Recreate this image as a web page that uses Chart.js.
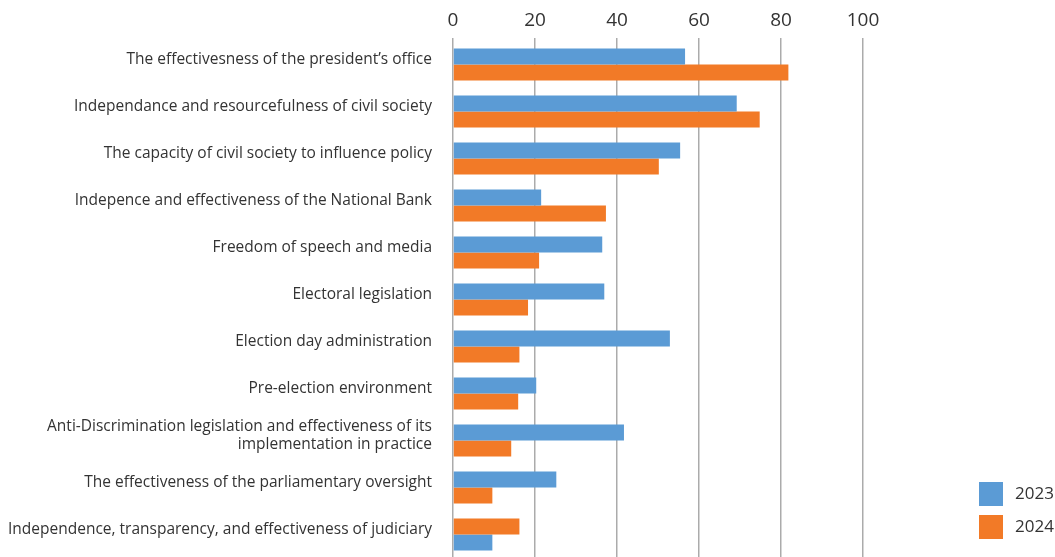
<!DOCTYPE html>
<html>
<head>
<meta charset="utf-8">
<title>Assessment 2023 vs 2024</title>
<script src="https://cdn.jsdelivr.net/npm/chart.js@4"></script>
<style>
  html, body { margin: 0; padding: 0; background: #fff; overflow: hidden; }
  canvas { display: block; }
</style>
</head>
<body>
<canvas id="chart" width="1055" height="560"></canvas>
<script>
const categories = [
    "The effectivesness of the president\u2019s office",
    "Independance and resourcefulness of civil society",
    "The capacity of civil society to influence policy",
    "Indepence and effectiveness of the National Bank",
    "Freedom of speech and media",
    "Electoral legislation",
    "Election day administration",
    "Pre-election environment",
    ["Anti-Discrimination legislation and effectiveness of its", "implementation in practice"],
    "The effectiveness of the parliamentary oversight",
    "Independence, transparency, and effectiveness of judiciary"
];
const values2023 = [56.6, 69.2, 55.4, 21.5, 36.4, 36.9, 52.9, 20.3, 41.7, 25.2, 9.6];
const values2024 = [81.8, 74.8, 50.2, 37.3, 21.0, 18.3, 16.2, 15.9, 14.2, 9.6, 16.2];
const xTicks = [0, 20, 40, 60, 80, 100];
const years = ["2023", "2024"];
const colors = { "2023": "#5B9BD5", "2024": "#F27A27" };
// rows where the 2024 bar sits above the 2023 one
const rows2024First = [10];

const FONT = "'Open Sans', 'Noto Sans', sans-serif";
const TEXT = "#333333";

// two bar slots per row (upper / lower), filled from the yearly series
function slot(upper) {
    const data = [], bg = [];
    categories.forEach((c, i) => {
        const flip = rows2024First.includes(i);
        const year = (upper !== flip) ? "2023" : "2024";
        data.push(year === "2023" ? values2023[i] : values2024[i]);
        bg.push(colors[year]);
    });
    return { label: upper ? "upper" : "lower", data, backgroundColor: bg, borderWidth: 0 };
}

const legendBoxes = {
    id: "legendBoxes",
    afterDraw(chart) {
        const ctx = chart.ctx;
        ctx.save();
        ctx.font = "17px " + FONT;
        ctx.textBaseline = "middle";
        years.forEach((y, i) => {
            const top = 482 + i * 33;
            ctx.fillStyle = colors[y];
            ctx.fillRect(979, top, 24, 24);
            ctx.fillStyle = TEXT;
            ctx.fillText(y, 1015, top + 12);
        });
        ctx.restore();
    }
};

new Chart(document.getElementById("chart"), {
    type: "bar",
    data: { labels: categories, datasets: [slot(true), slot(false)] },
    options: {
        indexAxis: "y",
        responsive: false,
        animation: false,
        layout: { padding: { left: 0, right: 192, top: 0, bottom: 2 } },
        datasets: { bar: { categoryPercentage: 0.68, barPercentage: 1 } },
        plugins: { legend: { display: false }, tooltip: { enabled: false } },
        scales: {
            x: {
                position: "top",
                min: 0,
                max: 100,
                afterBuildTicks: s => { s.ticks = xTicks.map(v => ({ value: v })); },
                afterFit: s => { s.height = 41; },
                border: { display: false },
                grid: { color: "#ababab", lineWidth: 1.5, drawTicks: true, tickLength: 3 },
                ticks: { color: TEXT, font: { family: FONT, size: 19 }, padding: 6 }
            },
            y: {
                // fixed label column; labels may run to the plot edges
                afterFit: s => { s.width = 453; s.paddingTop = 0; s.paddingBottom = 0; },
                border: { display: false },
                grid: { display: false, drawTicks: false },
                ticks: {
                    color: TEXT,
                    font: { family: FONT, size: 15.5, lineHeight: 1.2 },
                    padding: 21,
                    labelOffset: -5
                }
            }
        }
    },
    plugins: [legendBoxes]
});
</script>
</body>
</html>
